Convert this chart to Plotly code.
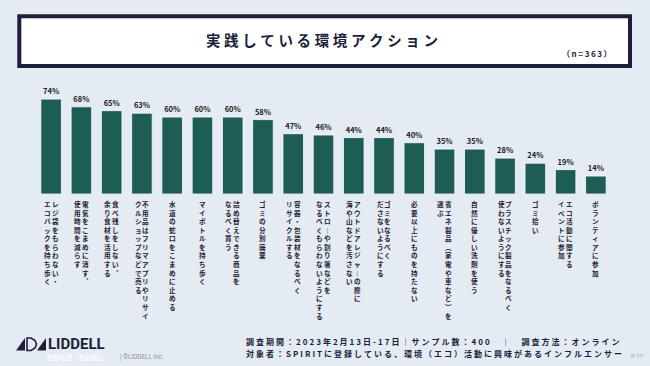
import plotly.graph_objects as go

# ---------------- data ----------------
categories = [
    "レジ袋をもらわない・エコバックを持ち歩く",
    "電気をこまめに消す、使用時間を減らす",
    "食べ残しをしない、余り食材を活用する",
    "不用品はフリマアプリやリサイクルショップなどで売る",
    "水道の蛇口をこまめに止める",
    "マイボトルを持ち歩く",
    "詰め替えできる商品をなるべく買う",
    "ゴミの分別廃棄",
    "容器・包装材をなるべくリサイクルする",
    "ストローや割り箸などをなるべくもらわないようにする",
    "アウトドアレジャーの際に海や山などを汚さない",
    "ゴミをなるべくださないようにする",
    "必要以上にものを持たない",
    "省エネ製品（家電や車など）を選ぶ",
    "自然に優しい洗剤を使う",
    "プラスチック製品をなるべく使わないようにする",
    "ゴミ拾い",
    "エコ活動に関するイベントに参加",
    "ボランティアに参加",
]
values = [74, 68, 65, 63, 60, 60, 60, 58, 47, 46, 44, 44, 40, 35, 35, 28, 24, 19, 14]

# label columns (vertical writing: first column on the right)
label_col1 = [
    "レジ袋をもらわない・", "電気をこまめに消す、", "食べ残しをしない、", "不用品はフリマアプリやリサイ",
    "水道の蛇口をこまめに止める", "マイボトルを持ち歩く", "詰め替えできる商品を", "ゴミの分別廃棄",
    "容器・包装材をなるべく", "ストローや割り箸などを", "アウトドアレジャーの際に", "ゴミをなるべく",
    "必要以上にものを持たない", "省エネ製品（家電や車など）を", "自然に優しい洗剤を使う",
    "プラスチック製品をなるべく", "ゴミ拾い", "エコ活動に関する", "ボランティアに参加",
]
label_col2 = [
    "エコバックを持ち歩く", "使用時間を減らす", "余り食材を活用する", "クルショップなどで売る",
    "", "", "なるべく買う", "",
    "リサイクルする", "なるべくもらわないようにする", "海や山などを汚さない", "ださないようにする",
    "", "選ぶ", "",
    "使わないようにする", "", "イベントに参加", "",
]

title_text = "実践している環境アクション"
n_text = "（n=363）"
survey_line1 = "調査期間：2023年2月13日-17日｜サンプル数：400　｜　調査方法：オンライン"
survey_line2 = "対象者：SPIRITに登録している、環境（エコ）活動に興味があるインフルエンサー"
page_text = "P-17"

# ---------------- style ----------------
BG = "#e4ebf3"
BAR = "#1e5d56"
NAVY = "#1c1f3b"
JP = "Noto Sans CJK JP"
W, H = 650, 366
ML, MR, MT, MB = 36, 39, 85, 172
PW, PH = W - ML - MR, H - MT - MB


def px(x):
    return (x - ML) / PW


def py(y):
    return (H - MB - y) / PH


def spaced(s, sep="\u2009"):
    return sep.join(list(s))


VMAP = {"ー": "︱", "、": "︑", "（": "︵", "）": "︶"}


def vertical(s):
    return "<br>".join(VMAP.get(c, c) for c in s)


fig = go.Figure()
fig.add_trace(go.Bar(
    x=categories, y=values,
    marker=dict(color=BAR, line=dict(color="#ffffff", width=0.8)),
    width=0.68,
    text=[f"{v}%" for v in values],
    textposition="outside",
    textfont=dict(family=JP, size=7.5, color="#222222", weight="bold"),
    constraintext="none",
    cliponaxis=False,
    hoverinfo="skip",
))

annotations = []
for cat, c1, c2 in zip(categories, label_col1, label_col2):
    if c2:
        cols = [(c1, 3.9), (c2, -3.9)]
    else:
        cols = [(c1, 0)]
    for txt, xs in cols:
        annotations.append(dict(
            x=cat, xref="x", y=0, yref="y", yanchor="top", xanchor="center",
            yshift=-4, xshift=xs, showarrow=False, align="center", borderpad=0,
            text="<b>" + vertical(txt) + "</b>",
            font=dict(family=JP, size=6.6, color="#1f2230"),
        ))

# title and n
annotations.append(dict(
    x=px(322), y=py(39), xref="paper", yref="paper", xanchor="center", yanchor="middle",
    showarrow=False, text="<b>" + spaced(title_text, "\u2005") + "</b>",
    font=dict(family=JP, size=14.5, color=NAVY),
))
annotations.append(dict(
    x=px(614), y=py(53), xref="paper", yref="paper", xanchor="right", yanchor="middle",
    showarrow=False, text="<b>" + spaced(n_text) + "</b>",
    font=dict(family=JP, size=8, color=NAVY),
))
# survey lines
annotations.append(dict(
    x=px(244), y=py(341), xref="paper", yref="paper", xanchor="left", yanchor="middle",
    showarrow=False, text="<b>" + spaced(survey_line1, "\u2005") + "</b>",
    font=dict(family=JP, size=8, color=NAVY),
))
annotations.append(dict(
    x=px(244), y=py(353), xref="paper", yref="paper", xanchor="left", yanchor="middle",
    showarrow=False, text="<b>" + spaced(survey_line2, "\u2005") + "</b>",
    font=dict(family=JP, size=8, color=NAVY),
))
annotations.append(dict(
    x=px(646), y=py(355), xref="paper", yref="paper", xanchor="right", yanchor="middle",
    showarrow=False, text=page_text,
    font=dict(family="Roboto", size=6, color="#9aa0ab"),
))
# logo text
annotations.append(dict(
    x=px(47), y=py(344), xref="paper", yref="paper", xanchor="left", yanchor="middle",
    showarrow=False, text="<b>LIDDELL</b>", borderpad=0,
    font=dict(family="Roboto", size=15, color=NAVY),
))
annotations.append(dict(
    x=px(46), y=py(357), xref="paper", yref="paper", xanchor="left", yanchor="middle",
    showarrow=False, text="無断転載・複製禁止", borderpad=0,
    font=dict(family=JP, size=6.3, color="#ffffff"),
))
annotations.append(dict(
    x=px(119), y=py(357), xref="paper", yref="paper", xanchor="left", yanchor="middle",
    showarrow=False, text="| ©LIDDELL Inc.", borderpad=0,
    font=dict(family="Roboto", size=6.3, color="#8a909c"),
))

shapes = [
    # title box
    dict(type="rect", xref="paper", yref="paper",
         x0=px(19.3), x1=px(630), y0=py(16.3), y1=py(66),
         line=dict(color=NAVY, width=4), fillcolor="#ffffff", layer="below"),
]


def path(pts):
    return "M " + " L ".join(f"{px(a):.5f},{py(b):.5f}" for a, b in pts) + " Z"


# logo icon
shapes.append(dict(type="path", xref="paper", yref="paper",
                   path=path([(16, 350.5), (25, 338), (25, 350.5)]),
                   fillcolor=NAVY, line=dict(width=0)))
shapes.append(dict(type="path", xref="paper", yref="paper",
                   path=path([(27, 338), (31, 338), (35, 340.5), (36.5, 344.2), (35, 348), (31, 350.5), (27, 350.5)]),
                   fillcolor="rgba(0,0,0,0)", line=dict(color=NAVY, width=1.6)))
shapes.append(dict(type="path", xref="paper", yref="paper",
                   path=path([(37, 350.5), (46, 338), (46, 350.5)]),
                   fillcolor=NAVY, line=dict(width=0)))

fig.update_layout(
    width=W, height=H,
    margin=dict(l=ML, r=MR, t=MT, b=MB, pad=0),
    paper_bgcolor=BG, plot_bgcolor=BG,
    showlegend=False,
    bargap=0.32,
    xaxis=dict(showticklabels=False, showgrid=False, zeroline=False, showline=False,
               range=[-0.5, len(categories) - 0.5], fixedrange=True),
    yaxis=dict(visible=False, range=[0, 85], fixedrange=True),
    annotations=annotations,
    shapes=shapes,
)

fig.write_html(
    "out.html",
    config={"displayModeBar": False},
    post_script="document.body.style.margin='0';document.body.style.background='" + BG + "';",
)
